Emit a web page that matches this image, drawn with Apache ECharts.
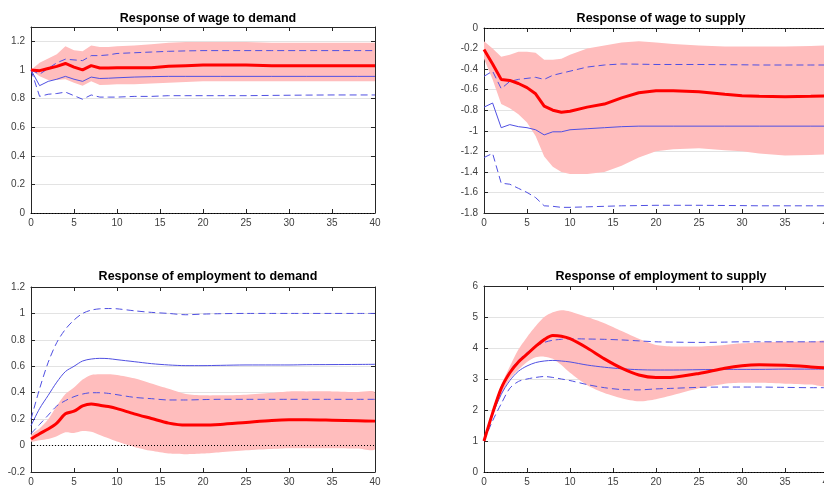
<!DOCTYPE html>
<html>
<head>
<meta charset="utf-8">
<script src="https://cdn.jsdelivr.net/npm/echarts@6/dist/echarts.min.js"></script>
<style>
  html, body { margin: 0; padding: 0; background: #fff; }
  #chart { width: 824px; height: 487px; }
</style>
</head>
<body>
<div id="chart"></div>
<script>
// Impulse-response horizons (periods after the shock)
const horizon = [0,1,2,3,4,5,6,7,8,9,10,12,14,16,18,20,22,25,28,30,32,35,38,40];

// Response of wage to demand
const wdMedian   = [1.00,0.995,1.01,1.025,1.045,1.02,1.0,1.03,1.013,1.013,1.015,1.015,1.015,1.025,1.03,1.035,1.035,1.035,1.03,1.03,1.03,1.03,1.03,1.03];
const wdBandHigh = [1.0,1.05,1.08,1.11,1.165,1.137,1.13,1.17,1.16,1.16,1.165,1.17,1.18,1.19,1.195,1.195,1.195,1.195,1.19,1.19,1.19,1.19,1.19,1.19];
const wdBandLow  = [1.0,0.955,0.93,0.93,0.935,0.91,0.89,0.92,0.895,0.897,0.9,0.9,0.905,0.91,0.915,0.92,0.92,0.92,0.92,0.92,0.92,0.92,0.92,0.92];
const wdPoint    = [1.0,0.89,0.92,0.935,0.955,0.935,0.92,0.95,0.94,0.942,0.945,0.95,0.953,0.955,0.955,0.955,0.955,0.955,0.955,0.955,0.955,0.955,0.955,0.955];
const wdAltHigh  = [1.0,0.97,1.01,1.05,1.075,1.07,1.065,1.1,1.1,1.105,1.115,1.12,1.125,1.13,1.133,1.135,1.135,1.135,1.135,1.135,1.135,1.135,1.135,1.135];
const wdAltLow   = [1.0,0.815,0.83,0.835,0.845,0.82,0.795,0.825,0.81,0.81,0.81,0.815,0.815,0.82,0.82,0.82,0.82,0.82,0.822,0.823,0.824,0.825,0.825,0.825];

// Response of wage to supply
const wsMedian   = [-0.21,-0.35,-0.5,-0.51,-0.54,-0.58,-0.64,-0.76,-0.8,-0.82,-0.81,-0.77,-0.74,-0.68,-0.63,-0.61,-0.61,-0.62,-0.645,-0.66,-0.665,-0.67,-0.665,-0.66];
const wsBandHigh = [-0.13,-0.2,-0.28,-0.26,-0.23,-0.23,-0.24,-0.31,-0.31,-0.3,-0.26,-0.2,-0.17,-0.14,-0.13,-0.14,-0.155,-0.17,-0.18,-0.18,-0.18,-0.18,-0.175,-0.17];
const wsBandLow  = [-0.3,-0.5,-0.74,-0.78,-0.84,-0.92,-1.05,-1.25,-1.35,-1.4,-1.42,-1.42,-1.4,-1.34,-1.26,-1.2,-1.18,-1.17,-1.19,-1.2,-1.22,-1.24,-1.235,-1.23];
const wsPoint    = [-0.77,-0.73,-0.97,-0.94,-0.96,-0.97,-0.99,-1.04,-1.01,-1.01,-0.99,-0.98,-0.97,-0.96,-0.955,-0.955,-0.955,-0.955,-0.955,-0.955,-0.955,-0.955,-0.955,-0.955];
const wsAltHigh  = [-0.47,-0.42,-0.59,-0.52,-0.5,-0.49,-0.48,-0.5,-0.46,-0.44,-0.42,-0.38,-0.36,-0.35,-0.352,-0.355,-0.355,-0.355,-0.357,-0.358,-0.36,-0.36,-0.36,-0.36];
const wsAltLow   = [-1.26,-1.22,-1.51,-1.52,-1.56,-1.6,-1.65,-1.73,-1.735,-1.745,-1.745,-1.74,-1.735,-1.73,-1.728,-1.725,-1.725,-1.725,-1.727,-1.728,-1.73,-1.73,-1.73,-1.73];

// Response of employment to demand
const edMedian   = [0.05,0.09,0.125,0.17,0.24,0.26,0.3,0.315,0.305,0.295,0.28,0.24,0.205,0.17,0.155,0.155,0.16,0.175,0.19,0.195,0.195,0.192,0.188,0.185];
const edBandHigh = [0.08,0.13,0.2,0.3,0.39,0.44,0.5,0.535,0.54,0.54,0.535,0.51,0.47,0.43,0.39,0.38,0.38,0.385,0.4,0.41,0.41,0.41,0.405,0.4];
const edBandLow  = [0.03,0.04,0.05,0.07,0.1,0.095,0.11,0.105,0.08,0.055,0.03,-0.01,-0.04,-0.06,-0.065,-0.06,-0.05,-0.035,-0.025,-0.02,-0.02,-0.02,-0.022,-0.025];
const edPoint    = [0.15,0.28,0.38,0.48,0.56,0.6,0.64,0.655,0.66,0.658,0.65,0.635,0.62,0.61,0.605,0.605,0.607,0.61,0.61,0.61,0.612,0.613,0.614,0.615];
const edAltHigh  = [0.2,0.43,0.63,0.78,0.88,0.95,1.0,1.025,1.035,1.037,1.035,1.02,1.008,1.0,0.99,0.995,0.998,1.0,1.0,1.0,1.0,1.0,1.0,1.0];
const edAltLow   = [0.09,0.16,0.23,0.3,0.34,0.37,0.39,0.4,0.4,0.395,0.385,0.365,0.355,0.345,0.345,0.348,0.35,0.35,0.35,0.35,0.35,0.35,0.35,0.35];

// Response of employment to supply
const esMedian   = [1.0,1.9,2.7,3.2,3.55,3.8,4.05,4.27,4.4,4.38,4.3,4.0,3.65,3.35,3.13,3.05,3.06,3.18,3.35,3.43,3.46,3.44,3.39,3.35];
const esBandHigh = [1.0,2.0,2.8,3.4,3.95,4.35,4.7,5.0,5.15,5.22,5.18,5.0,4.8,4.55,4.3,4.1,4.05,4.05,4.1,4.15,4.18,4.2,4.2,4.2];
const esBandLow  = [1.0,1.8,2.5,3.0,3.3,3.55,3.7,3.72,3.65,3.45,3.2,2.8,2.55,2.38,2.28,2.35,2.48,2.7,2.85,2.88,2.88,2.85,2.82,2.8];
const esPoint    = [1.0,1.85,2.5,2.95,3.25,3.42,3.53,3.58,3.6,3.58,3.55,3.45,3.38,3.33,3.3,3.29,3.29,3.3,3.31,3.31,3.31,3.32,3.32,3.32];
const esAltHigh  = [1.0,1.95,2.7,3.25,3.6,3.85,4.05,4.18,4.25,4.28,4.3,4.29,4.28,4.26,4.23,4.2,4.19,4.18,4.19,4.2,4.2,4.2,4.2,4.2];
const esAltLow   = [1.0,1.65,2.2,2.7,2.92,3.0,3.05,3.08,3.05,3.0,2.95,2.82,2.72,2.66,2.65,2.68,2.7,2.73,2.74,2.74,2.74,2.73,2.72,2.72];

const titles = [
  'Response of wage to demand',
  'Response of wage to supply',
  'Response of employment to demand',
  'Response of employment to supply'
];

const panels = [
  { median: wdMedian, hi: wdBandHigh, lo: wdBandLow, point: wdPoint, altHi: wdAltHigh, altLo: wdAltLow,
    yMin: 0, yMax: 1.3, yStep: 0.2, smooth: false },
  { median: wsMedian, hi: wsBandHigh, lo: wsBandLow, point: wsPoint, altHi: wsAltHigh, altLo: wsAltLow,
    yMin: -1.8, yMax: 0, yStep: 0.2, smooth: false },
  { median: edMedian, hi: edBandHigh, lo: edBandLow, point: edPoint, altHi: edAltHigh, altLo: edAltLow,
    yMin: -0.2, yMax: 1.2, yStep: 0.2, smooth: 0.3 },
  { median: esMedian, hi: esBandHigh, lo: esBandLow, point: esPoint, altHi: esAltHigh, altLo: esAltLow,
    yMin: 0, yMax: 6, yStep: 1, smooth: 0.3 }
];

const grids = [
  { left: 31,  top: 27,  width: 344, height: 186 },
  { left: 484, top: 28,  width: 344, height: 185 },
  { left: 31,  top: 287, width: 344, height: 185 },
  { left: 484, top: 286, width: 344, height: 186 }
].map(g => Object.assign({ outerBoundsMode: 'none', containLabel: false }, g));

const FONT = 'Liberation Sans, Arial, sans-serif';
const AXIS_COLOR = '#262626';
const LABEL_COLOR = '#404040';
const BAND_COLOR = '#ffbdbd';
const MEDIAN_COLOR = '#ff0000';
const BLUE = '#5050e2';

const pairs = ys => horizon.map((h, i) => [h, ys[i]]);

const xAxes = [], yAxes = [], series = [], titleList = [];

panels.forEach((p, g) => {
  const grid = grids[g];
  titleList.push({
    text: titles[g],
    left: grid.left + grid.width / 2,
    top: g < 2 ? 7 : 265,
    textAlign: 'center',
    textStyle: { fontFamily: FONT, fontWeight: 'bold', fontSize: 12.5, color: '#000' }
  });

  const tickCommon = { show: true, inside: true, length: 4, lineStyle: { color: AXIS_COLOR } };
  const lineCommon = { show: true, onZero: false, lineStyle: { color: AXIS_COLOR, width: 1 } };
  // bottom axis with labels
  xAxes.push({
    type: 'value', gridIndex: g, min: 0, max: 40, interval: 5, position: 'bottom',
    axisLine: lineCommon, axisTick: tickCommon, splitLine: { show: false },
    axisLabel: { color: LABEL_COLOR, fontSize: 10, margin: 5, fontFamily: FONT }
  });
  // mirrored top axis closing the box
  xAxes.push({
    type: 'value', gridIndex: g, min: 0, max: 40, interval: 5, position: 'top',
    axisLine: lineCommon, axisTick: tickCommon, splitLine: { show: false }, axisLabel: { show: false }
  });
  yAxes.push({
    type: 'value', gridIndex: g, min: p.yMin, max: p.yMax, interval: p.yStep, position: 'left',
    axisLine: lineCommon, axisTick: tickCommon,
    splitLine: { show: true, lineStyle: { color: '#e3e3e3', width: 1 } },
    axisLabel: {
      color: LABEL_COLOR, fontSize: 10, margin: 6, fontFamily: FONT,
      formatter: v => {
        const k = Math.round(v / p.yStep);
        if (Math.abs(k * p.yStep - v) > 1e-6) return '';
        return String(+(k * p.yStep).toFixed(2));
      }
    }
  });
  yAxes.push({
    type: 'value', gridIndex: g, min: p.yMin, max: p.yMax, interval: p.yStep, position: 'right',
    axisLine: lineCommon, axisTick: tickCommon, splitLine: { show: false }, axisLabel: { show: false }
  });

  const xi = g * 2, yi = g * 2;

  // credible band drawn as a filled polygon between its upper and lower edges
  series.push({
    type: 'custom', xAxisIndex: xi, yAxisIndex: yi, clip: true, silent: true, z: 1,
    data: [[0, p.hi[0]]],
    renderItem: (params, api) => {
      const upper = horizon.map((h, i) => api.coord([h, p.hi[i]]));
      const lower = horizon.map((h, i) => api.coord([h, p.lo[i]])).reverse();
      return {
        type: 'polygon',
        shape: { points: upper.concat(lower), smooth: p.smooth ? 0.25 : 0 },
        style: { fill: BAND_COLOR, stroke: null }
      };
    }
  });

  // zero reference line
  series.push({
    type: 'line', xAxisIndex: xi, yAxisIndex: yi, data: [], silent: true,
    markLine: {
      symbol: 'none', silent: true, label: { show: false },
      lineStyle: { color: '#000', type: [1, 2], width: 1 },
      data: [{ yAxis: 0 }]
    }, z: 5
  });

  // alternative identification: point estimate and bounds
  series.push({
    type: 'line', xAxisIndex: xi, yAxisIndex: yi, data: pairs(p.point), symbol: 'none', smooth: p.smooth,
    lineStyle: { color: BLUE, width: 1 }, z: 3
  });
  series.push({
    type: 'line', xAxisIndex: xi, yAxisIndex: yi, data: pairs(p.altHi), symbol: 'none', smooth: p.smooth,
    lineStyle: { color: BLUE, width: 1, type: [7, 4] }, z: 3
  });
  series.push({
    type: 'line', xAxisIndex: xi, yAxisIndex: yi, data: pairs(p.altLo), symbol: 'none', smooth: p.smooth,
    lineStyle: { color: BLUE, width: 1, type: [7, 4] }, z: 3
  });

  // median response
  series.push({
    type: 'line', xAxisIndex: xi, yAxisIndex: yi, data: pairs(p.median), symbol: 'none', smooth: p.smooth,
    lineStyle: { color: MEDIAN_COLOR, width: 3 }, z: 4
  });
});

const chart = echarts.init(document.getElementById('chart'), null, { renderer: 'canvas' });
chart.setOption({
  animation: false,
  backgroundColor: '#fff',
  title: titleList,
  grid: grids,
  xAxis: xAxes,
  yAxis: yAxes,
  series: series
});
</script>
</body>
</html>
